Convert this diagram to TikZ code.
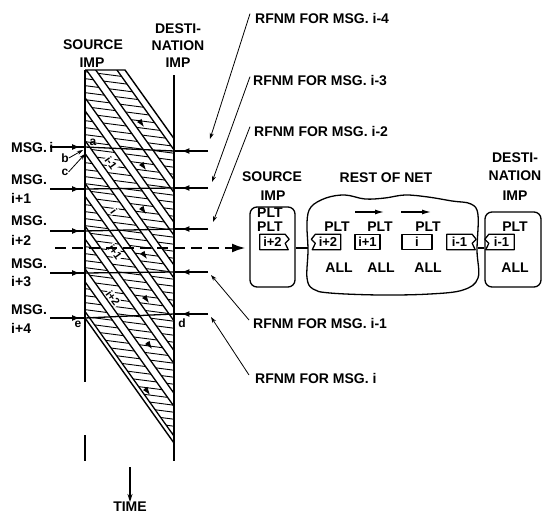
\documentclass[tikz,border=0pt]{standalone}
\usepackage{fontspec}
\setmainfont{Liberation Sans}
\usetikzlibrary{arrows.meta,calc,decorations.markings}
\newcommand\pktR[3]{%
  \node[pktxt] (#1) at (#2) {#3};
  \draw[pkline] (#1.north west) -- (#1.north east) -- ($(#1.north east)+(4,5)$) -- ($(#1.north east)+(0,9)$) -- ($(#1.south east)+(3,0)$) -- (#1.south west) -- cycle;}
\newcommand\pktL[3]{%
  \node[pktxt] (#1) at (#2) {#3};
  \draw[pkline] (#1.north east) -- (#1.north west) -- ($(#1.north west)+(-4,5)$) -- ($(#1.north west)+(0,9)$) -- ($(#1.south west)+(-3,0)$) -- (#1.south east) -- cycle;}
\newcommand\pktP[3]{%
  \node[pktxt,draw,pkline] (#1) at (#2) {#3};}
\begin{document}
\begin{tikzpicture}[x=1pt,y=-1pt,
  lbl/.style={font=\fontsize{14}{15}\selectfont\bfseries, inner sep=0pt},
  sml/.style={font=\fontsize{12}{13}\selectfont\bfseries, inner sep=0pt},
  tiny/.style={font=\fontsize{11}{12}\selectfont\bfseries, inner sep=0.8pt, fill=white},
  pktxt/.style={font=\fontsize{13}{14}\selectfont\bfseries, inner sep=0pt, minimum width=25pt, minimum height=15pt},
  pkline/.style={line width=1.3pt, line join=round},
  bnd/.style={line width=1.4pt},
  hatchln/.style={line width=0.9pt},
  stripeln/.style={line width=1.3pt},
  msgln/.style={line width=1.3pt},
  ldr/.style={line width=0.8pt, -{Stealth[length=6pt,width=4pt]}},
  midarrow/.style={postaction={decorate}, decoration={markings, mark=at position #1 with {\arrow{Latex[length=8pt,width=6pt]}}}},
  tinyarrow/.style={-{Latex[length=8pt,width=5.5pt]}, line width=0.8pt}
]
\useasboundingbox (0,0) rectangle (542,514);

% ---------- headers ----------
\node[lbl] (hsrc1) at (93,45) {SOURCE};
\node[lbl] (hsrc2) at (92,63) {IMP};
\node[lbl] (hdst1) at (178,29) {DESTI-};
\node[lbl] (hdst2) at (178,46) {NATION};
\node[lbl] (hdst3) at (178,63) {IMP};

% ---------- key coordinates ----------
\coordinate (stop) at (85,70);
\coordinate (sgap1) at (85,382);
\coordinate (sgap2) at (85,435);
\coordinate (sbot) at (85,461);
\coordinate (dtop) at (174,75);
\coordinate (dbot) at (174,461);
\coordinate (ptr) at (125,70);
\coordinate (prt) at (174,138.6);
\coordinate (pbt) at (174,443);
\coordinate (ee) at (85,318);

% ---------- hatched region ----------
\begin{scope}
  \clip (stop) -- (ptr) -- (prt) -- (pbt) -- (ee) -- cycle;
  \foreach \k in {0,...,58}
    \draw[hatchln] (80,{64+7*\k}) -- (180,{64+7*\k+13});
  \foreach \s in {25.25,68,110.75,153.5,196.25,239,281.75,324.5} {
    \fill[white] (85,{\s-13}) -- (185,{\s+127}) -- (185,{\s+140}) -- (85,\s) -- cycle;
    \draw[stripeln] (85,\s) -- (185,{\s+140});
    \draw[stripeln] (85,{\s-13}) -- (185,{\s+127});
  }
\end{scope}
\draw[bnd] (stop) -- (ptr) -- (prt);
\draw[bnd] (ee) -- (pbt);
\draw[bnd] (stop) -- (sgap1);
\draw[bnd] (sgap2) -- (sbot);
\draw[bnd] (dtop) -- (dbot);

% small arrowheads along the stripes
\foreach \x/\y in {144/127, 146/170, 146/214, 147/259, 149/303, 152/349, 150/395}
  \draw[tinyarrow] ({\x-5},{\y-7}) -- (\x,\y);

% labels along the stripes
\node[tiny, rotate=-54] (li1) at (111,163) {i-1};
\node[tiny, rotate=-54] (li) at (114,211) {i};
\node[tiny, rotate=-54] (li2) at (115,252) {i+1};
\node[tiny, rotate=-54] (li3) at (113,298) {i+2};

% ---------- message lines ----------
\foreach \n/\ya/\yb in {0/147/151, 1/189/188, 2/231/229, 3/273/272, 4/318/314} {
  \coordinate (m\n a) at (50,\ya);
  \coordinate (m\n b) at (85,\ya);
  \coordinate (m\n c) at (174,\yb);
  \coordinate (m\n d) at (208,\yb);
  \draw[msgln, midarrow=0.86] (m\n a) -- (m\n b);
  \draw[msgln] (m\n b) -- (m\n c);
  \draw[msgln, midarrow=0.78] (m\n d) -- (m\n c);
}

% message labels
\node[lbl, anchor=west] (msgi) at (11,147) {MSG.\,i};
\node[lbl, anchor=west] (msg1) at (11,180) {MSG.};
\node[lbl, anchor=west] (msg1n) at (11,198) {i+1};
\node[lbl, anchor=west] (msg2) at (11,221) {MSG.};
\node[lbl, anchor=west] (msg2n) at (11,240) {i+2};
\node[lbl, anchor=west] (msg3) at (11,264) {MSG.};
\node[lbl, anchor=west] (msg3n) at (11,282) {i+3};
\node[lbl, anchor=west] (msg4) at (11,310) {MSG.};
\node[lbl, anchor=west] (msg4n) at (11,328) {i+4};

% event letters
\node[sml] (la) at (93,142) {a};
\node[sml] (lb) at (65,158) {b};
\node[sml] (lc) at (65,172) {c};
\node[sml] (le) at (78,324) {e};
\node[sml] (ld) at (182,323) {d};
\coordinate (pb) at (83,150);
\coordinate (pc) at (85,154);
\draw[ldr] (lb.east) -- (pb);
\draw[ldr] (lc.east) -- (pc);

% ---------- dashed arrow ----------
\coordinate (dsh0) at (55,248);
\coordinate (dsh1) at (246,248);
\draw[line width=2.6pt, dash pattern=on 11pt off 6pt, -{Latex[length=14pt,width=9pt]}] (dsh0) -- (dsh1);

% ---------- time ----------
\node[lbl] (time) at (130,507) {TIME};
\coordinate (t0) at (130,467);
\draw[line width=1.1pt, -{Stealth[length=8pt,width=5pt]}] (t0) -- (time.north);

% ---------- RFNM labels ----------
\node[lbl, anchor=west] (r4) at (255,18) {RFNM FOR MSG. i-4};
\node[lbl, anchor=west] (r3) at (253,81) {RFNM FOR MSG. i-3};
\node[lbl, anchor=west] (r2) at (254,131) {RFNM FOR MSG. i-2};
\node[lbl, anchor=west] (r1) at (253,323) {RFNM FOR MSG. i-1};
\node[lbl, anchor=west] (r0) at (255,378) {RFNM FOR MSG. i};
\coordinate (r4t) at (210,139);
\coordinate (r3t) at (212,182);
\coordinate (r2t) at (213,222);
\coordinate (r1t) at (211,275);
\coordinate (r0t) at (211,317);
\draw[ldr] ($(r4.north west)+(-5,1)$) -- (r4t);
\draw[ldr] ($(r3.north west)+(-3,1)$) -- (r3t);
\draw[ldr] ($(r2.north west)+(-4,1)$) -- (r2t);
\draw[ldr] ($(r1.west)+(-4,-3)$) -- (r1t);
\draw[ldr] ($(r0.west)+(-6,-3)$) -- (r0t);

% ---------- right diagram ----------
\node[lbl] (rsrc1) at (272,177) {SOURCE};
\node[lbl] (rsrc2) at (273,196) {IMP};
\node[lbl] (rnet) at (386,178) {REST OF NET};
\node[lbl] (rdst1) at (515,158) {DESTI-};
\node[lbl] (rdst2) at (515,176) {NATION};
\node[lbl] (rdst3) at (515,196) {IMP};

\node[draw, line width=1.3pt, rounded corners=7pt, minimum width=45pt, minimum height=80pt, inner sep=0pt] (srcbox) at (272.5,247) {};
\node[draw, line width=1.3pt, rounded corners=7pt, minimum width=56pt, minimum height=75pt, inner sep=0pt] (dstbox) at (513,249.5) {};
\draw[line width=1.3pt] plot[smooth cycle, tension=0.6] coordinates {
  (307,222) (311,207) (326,198) (345,195) (365,199) (385,198) (405,195) (428,197) (452,201) (471,204) (478,215)
  (477,250) (478,278) (463,290) (430,294) (380,295) (330,293) (313,289) (307,278) (308,250)};
\coordinate (cloudL) at (307.5,248);
\coordinate (cloudR) at (477.5,248);
\draw[line width=1.3pt] (srcbox.east |- cloudL) -- (cloudL);
\draw[line width=1.3pt] (cloudR) -- (dstbox.west |- cloudR);

% source box contents
\node[lbl, anchor=west] (sp1) at (257,213) {PLT};
\node[lbl, anchor=west] (sp2) at (257,227) {PLT};
\pktR{spk}{272.5,242}{i+2}

% cloud contents
\node[lbl] (cp1) at (337,227) {PLT};
\node[lbl] (cp2) at (380,227) {PLT};
\node[lbl] (cp3) at (428,227) {PLT};
\node[lbl] (ca1) at (339,268) {ALL};
\node[lbl] (ca2) at (381,268) {ALL};
\node[lbl] (ca3) at (428,268) {ALL};
\pktL{cpk1}{328,242}{i+2}
\pktP{cpk2}{367.5,242}{i+1}
\node[pktxt, draw, pkline, minimum width=30pt] (cpk3) at (417,242) {i};
\pktR{cpk4}{459.5,242}{i-1}
\coordinate (ca0) at (355,212);
\coordinate (ca0e) at (384,212);
\coordinate (cb0) at (401,212);
\coordinate (cb0e) at (431,212);
\draw[line width=1.2pt, -{Latex[length=9pt,width=5pt]}] (ca0) -- (ca0e);
\draw[line width=1.2pt, -{Latex[length=9pt,width=5pt]}] (cb0) -- (cb0e);

% destination contents
\node[lbl] (dp1) at (515,227) {PLT};
\node[lbl] (da1) at (515,268) {ALL};
\pktL{dpk}{501.5,242}{i-1}
\end{tikzpicture}
\end{document}
